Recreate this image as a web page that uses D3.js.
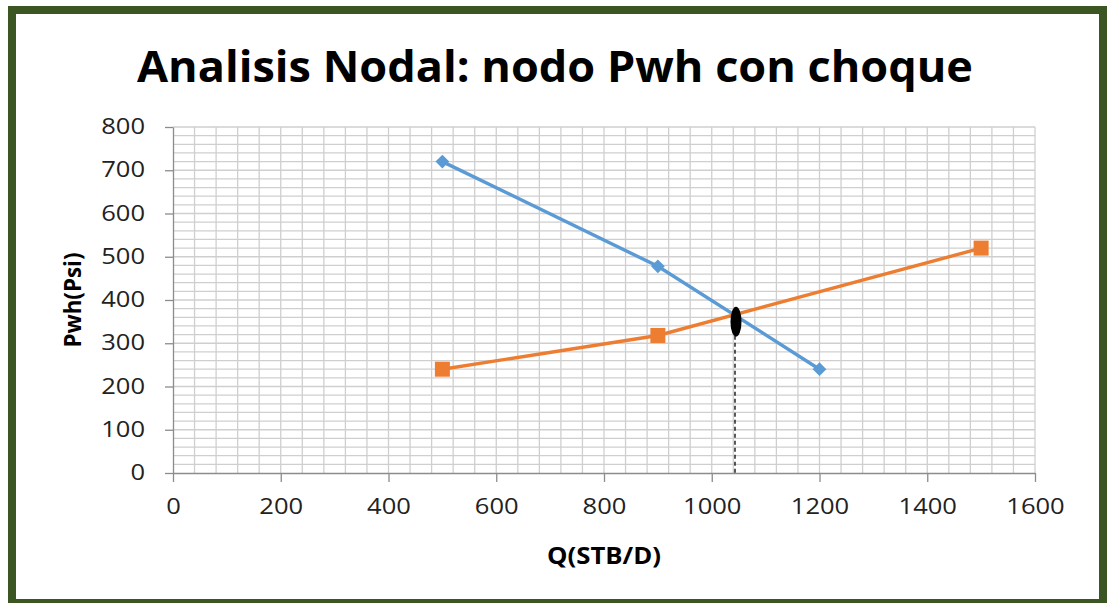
<!DOCTYPE html>
<html>
<head>
<meta charset="utf-8">
<script src="https://cdn.jsdelivr.net/npm/d3@7"></script>
<style>
  body { margin: 0; background: #fff; }
  svg { display: block; }
</style>
</head>
<body>
<svg width="1108" height="603"></svg>
<script>
// datos
var qIpr = [500, 900, 1200]
var pIpr = [720, 478, 240]
var qTub = [500, 900, 1500]
var pTub = [240, 318, 520]
var xTicks = [0, 200, 400, 600, 800, 1000, 1200, 1400, 1600]
var yTicks = [0, 100, 200, 300, 400, 500, 600, 700, 800]
var cruce = [1045, 350]

var svg = d3.select('svg'),
    width = +svg.attr('width'),
    height = +svg.attr('height')

var margin = { left: 173, right: 73, top: 127, bottom: 130 }

var x = d3.scaleLinear().domain([0, 1600]).range([margin.left, width - margin.right])
var y = d3.scaleLinear().domain([0, 800]).range([height - margin.bottom, margin.top])

// marco verde
svg.append('rect')
    .attr('x', 12).attr('y', 10)
    .attr('width', 1091).attr('height', 593)
    .attr('fill', '#fff')
    .attr('stroke', '#3b5623')
    .attr('stroke-width', 8)

// titulo
svg.append('text')
    .attr('x', 555).attr('y', 82)
    .attr('text-anchor', 'middle')
    .attr('font-family', 'Open Sans')
    .attr('font-weight', 'bold')
    .attr('font-size', 43)
    .attr('textLength', 836)
    .attr('lengthAdjust', 'spacingAndGlyphs')
    .text('Analisis Nodal: nodo Pwh con choque')

// rejilla menor
var grid = svg.append('g').attr('stroke', '#cfcfcf').attr('stroke-width', 1.3)
grid.selectAll('.vx')
    .data(d3.range(40, 1601, 40))
  .enter().append('line')
    .attr('x1', function(d) { return x(d) }).attr('x2', function(d) { return x(d) })
    .attr('y1', y(0)).attr('y2', y(800))
grid.selectAll('.hy')
    .data(d3.range(20, 801, 20))
  .enter().append('line')
    .attr('y1', function(d) { return y(d) }).attr('y2', function(d) { return y(d) })
    .attr('x1', x(0)).attr('x2', x(1600))

// ejes
var fmt = d3.format('d')
var xAxis = svg.append('g')
    .attr('transform', 'translate(0,' + y(0) + ')')
    .call(d3.axisBottom(x).tickValues(xTicks).tickFormat(fmt).tickSize(9).tickPadding(17).tickSizeOuter(0))
var yAxis = svg.append('g')
    .attr('transform', 'translate(' + x(0) + ',0)')
    .call(d3.axisLeft(y).tickValues(yTicks).tickFormat(fmt).tickSize(8).tickPadding(20).tickSizeOuter(0))

svg.selectAll('.domain, .tick line').attr('stroke', '#8c8c8c').attr('stroke-width', 1.3)
svg.selectAll('.tick text')
    .attr('font-family', 'Open Sans')
    .attr('font-size', 21)
    .attr('fill', '#222')
    .attr('textLength', function(d) { return String(d).length * 14.6 })
    .attr('lengthAdjust', 'spacingAndGlyphs')
xAxis.selectAll('.tick text').attr('dy', '0.71em')

// titulos de ejes
svg.append('text')
    .attr('x', 604).attr('y', 564)
    .attr('text-anchor', 'middle')
    .attr('font-family', 'Open Sans')
    .attr('font-weight', 'bold')
    .attr('font-size', 24)
    .attr('textLength', 114)
    .attr('lengthAdjust', 'spacingAndGlyphs')
    .text('Q(STB/D)')

svg.append('text')
    .attr('transform', 'translate(81,300) rotate(-90)')
    .attr('text-anchor', 'middle')
    .attr('font-family', 'Open Sans')
    .attr('font-weight', 'bold')
    .attr('font-size', 23)
    .attr('textLength', 95)
    .attr('lengthAdjust', 'spacingAndGlyphs')
    .text('Pwh(Psi)')

var line = d3.line()
    .x(function(d) { return x(d[0]) })
    .y(function(d) { return y(d[1]) })

var ipr = d3.zip(qIpr, pIpr)
var tub = d3.zip(qTub, pTub)

svg.append('path')
    .datum(ipr)
    .attr('fill', 'none')
    .attr('stroke', '#5b9bd5')
    .attr('stroke-width', 3.4)
    .attr('d', line)

svg.append('path')
    .datum(tub)
    .attr('fill', 'none')
    .attr('stroke', '#ed7d31')
    .attr('stroke-width', 3.4)
    .attr('d', line)

svg.selectAll('.diamante')
    .data(ipr)
  .enter().append('path')
    .attr('transform', function(d) { return 'translate(' + x(d[0]) + ',' + y(d[1]) + ')' })
    .attr('d', d3.symbol().type(d3.symbolDiamond2).size(120))
    .attr('fill', '#5b9bd5')

svg.selectAll('.cuadro')
    .data(tub)
  .enter().append('rect')
    .attr('x', function(d) { return x(d[0]) - 7.5 })
    .attr('y', function(d) { return y(d[1]) - 7.5 })
    .attr('width', 15).attr('height', 15)
    .attr('fill', '#ed7d31')

// punto de operacion
svg.append('line')
    .attr('x1', x(cruce[0]) - 1).attr('x2', x(cruce[0]) - 1)
    .attr('y1', y(cruce[1])).attr('y2', y(0))
    .attr('stroke', '#000')
    .attr('stroke-width', 1.3)
    .attr('stroke-dasharray', '4,3')

svg.append('ellipse')
    .attr('cx', x(cruce[0])).attr('cy', y(cruce[1]))
    .attr('rx', 5.5).attr('ry', 15)
    .attr('fill', '#000')
</script>
</body>
</html>
